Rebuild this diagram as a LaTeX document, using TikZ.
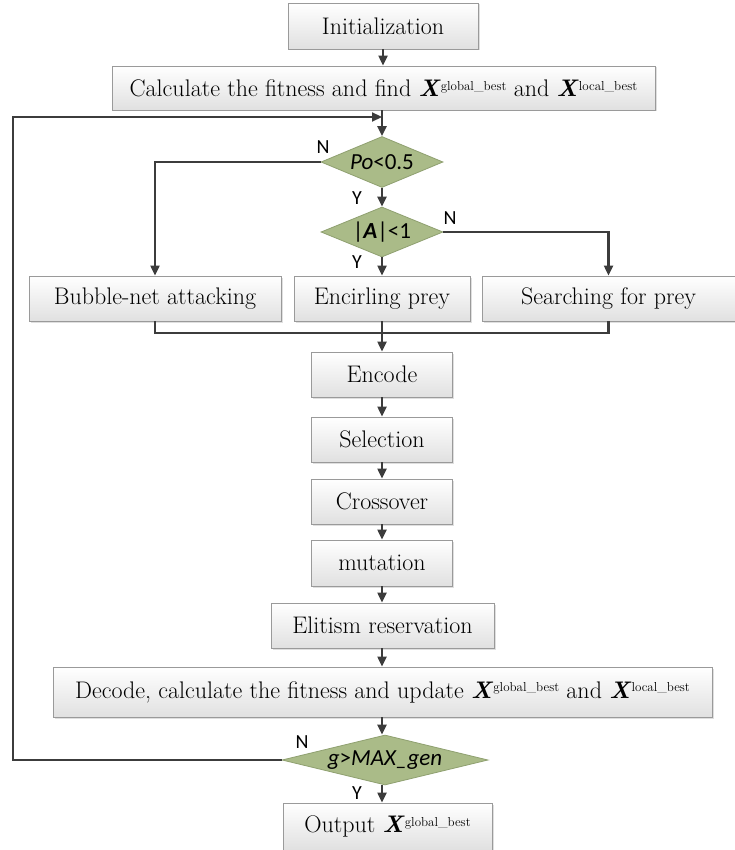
\documentclass[tikz,border=0pt]{standalone}
\usepackage{fontspec}
\newfontfamily\sansf{Carlito}
\usetikzlibrary{shapes.geometric,arrows.meta,shadows}
\definecolor{linec}{HTML}{3C3C3C}
\definecolor{dfill}{HTML}{AABB88}
\definecolor{dborder}{HTML}{8FA070}
\definecolor{bborder}{HTML}{9A9A9A}
\newcommand{\Xb}[1]{\textbf{\textit{X}}\raisebox{0.6ex}{\fontsize{13}{13}\selectfont #1}}
\begin{document}
\begin{tikzpicture}[x=1pt,y=-1pt,
  box/.style={rectangle,draw=bborder,line width=0.9pt,top color=white,bottom color=black!12,
    drop shadow={shadow xshift=1.5pt,shadow yshift=-1.5pt,opacity=0.25},
    inner sep=0pt,font=\fontsize{24}{28}\selectfont},
  dec/.style={diamond,aspect=2.4,draw=dborder,fill=dfill,line width=0.8pt,inner sep=0pt,
    font=\sansf\fontsize{23}{26}\selectfont},
  lab/.style={font=\sansf\fontsize{20}{22}\selectfont,inner sep=0pt},
  arr/.style={draw=linec,line width=2.2pt,-{Triangle[length=10pt,width=9pt]}},
  ln/.style={draw=linec,line width=2.2pt}]
\useasboundingbox (0,0) rectangle (735,850);
\fill[white] (0,0) rectangle (735,850);
\node[box,minimum width=190,minimum height=46] (init) at (383,26) {Initialization};
\node[box,minimum width=543,minimum height=44] (calc) at (383.5,88) {Calculate the fitness and find \Xb{global\_best} and \Xb{local\_best}};
\node[dec,minimum width=122,minimum height=51] (po) at (382,162) {\textit{Po}<0.5};
\node[dec,minimum width=122,minimum height=50] (aa) at (382,232) {|\textbf{\textit{A}}|<1};
\node[box,minimum width=252,minimum height=45] (bub) at (155,298.5) {Bubble-net attacking};
\node[box,minimum width=176,minimum height=45] (enc) at (382,298.5) {Encirling prey};
\node[box,minimum width=253,minimum height=45] (sea) at (608.5,298.5) {Searching for prey};
\node[box,minimum width=141,minimum height=45] (code) at (382,374.5) {Encode};
\node[box,minimum width=141,minimum height=45] (sel) at (382,439.5) {Selection};
\node[box,minimum width=141,minimum height=45] (cro) at (382,501.5) {Crossover};
\node[box,minimum width=141,minimum height=46] (mut) at (382,563) {mutation};
\node[box,minimum width=223,minimum height=45] (eli) at (382.5,625.5) {Elitism reservation};
\node[box,minimum width=659,minimum height=50] (dcd) at (382.5,692) {Decode, calculate the fitness and update \Xb{global\_best} and \Xb{local\_best}};
\node[dec,aspect=4,minimum width=206,minimum height=50] (gg) at (385,760) {\textit{g}>\textit{MAX\_gen}};
\node[box,minimum width=209,minimum height=47] (out) at (387.5,826.5) {Output \Xb{global\_best}};
% labels
\node[lab] (n1) at (323,147) {N};
\node[lab] (y1) at (357,198) {Y};
\node[lab] (n2) at (450,218) {N};
\node[lab] (y2) at (357,262) {Y};
\node[lab] (n3) at (302,742) {N};
\node[lab] (y3) at (357,793) {Y};
% connectors
\coordinate (lp) at (13,117);
\coordinate (mg) at (382,333);
\draw[arr] (init.south) -- (init.south |- calc.north);
\draw[arr] (calc.south -| po.north) -- (po.north);
\draw[arr] (gg.west) -| (lp) -- (lp -| po.north);
\draw[arr] (po.west) -| (bub.north);
\draw[arr] (po.south) -- (aa.north);
\draw[arr] (aa.east) -| (sea.north);
\draw[arr] (aa.south) -- (enc.north);
\draw[ln] (bub.south) |- (mg);
\draw[ln] (sea.south) |- (mg);
\draw[arr] (enc.south) -- (code.north);
\draw[arr] (code.south) -- (sel.north);
\draw[arr] (sel.south) -- (cro.north);
\draw[arr] (cro.south) -- (mut.north);
\draw[arr] (mut.south) -- (eli.north -| mut.south);
\draw[arr] (eli.south -| mut.south) -- (dcd.north -| mut.south);
\draw[arr] (dcd.south -| mut.south) -- (gg.north -| mut.south);
\draw[arr] (gg.south -| mut.south) -- (out.north -| mut.south);
\end{tikzpicture}
\end{document}
